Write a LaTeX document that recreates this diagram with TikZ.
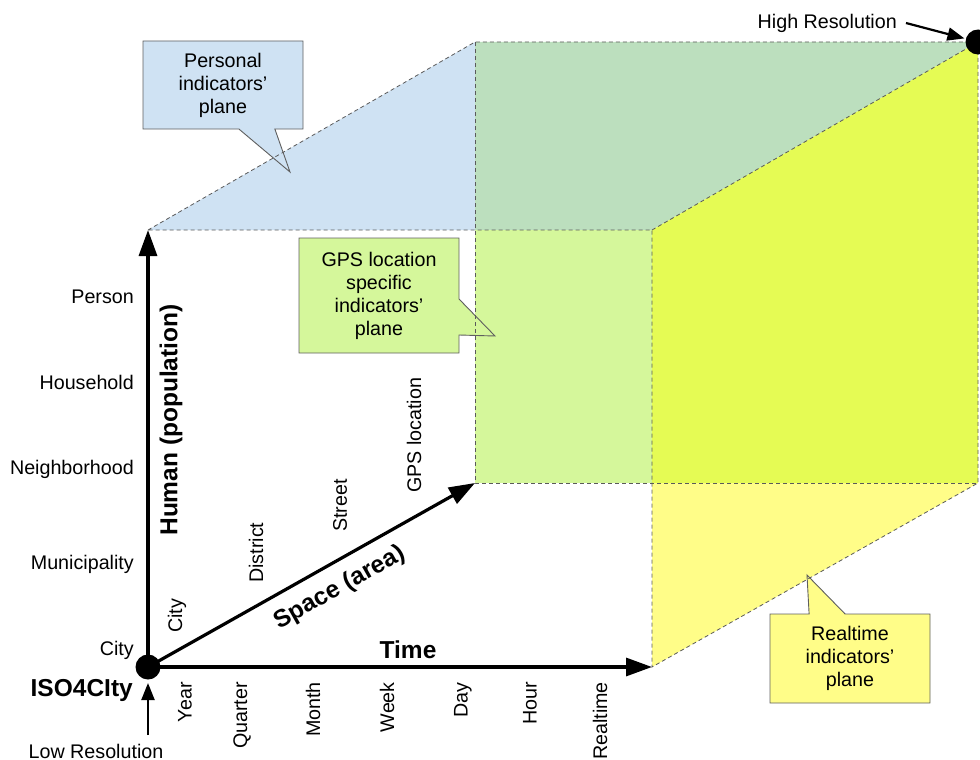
\documentclass[tikz,border=0pt]{standalone}
\usepackage{fontspec}
\setmainfont{Liberation Sans}
\usetikzlibrary{arrows.meta,shapes.callouts}

\definecolor{personblue}{HTML}{CFE2F3}
\definecolor{overlapgreen}{HTML}{BCDFBE}
\definecolor{gpsgreen}{HTML}{D5F79B}
\definecolor{limeyellow}{HTML}{E5FB54}
\definecolor{realyellow}{HTML}{FFFD88}
\definecolor{edgegray}{HTML}{5A5A5A}
\definecolor{notegray}{HTML}{5F5F5F}

\begin{document}
\begin{tikzpicture}[x=1pt,y=-1pt,
    txt/.style={font=\fontsize{19.7}{23}\selectfont,inner sep=0pt},
    bold/.style={font=\fontsize{24.5}{28}\selectfont\bfseries,inner sep=0pt},
    axis/.style={line width=3.2pt,-{Triangle[length=26pt,width=18pt]}},
    pointer/.style={line width=2.2pt,-{Triangle[length=17pt,width=13pt]}},
    edge/.style={dash pattern=on 4pt off 3pt,line width=0.8pt,draw=edgegray},
    note/.style={rectangle callout,draw=notegray,line width=0.9pt,
                 callout pointer width=36pt,align=center,txt}]
        \useasboundingbox (0,0) rectangle (980,760);
        \coordinate (origin)   at (148,667);
        \coordinate (human)    at (148,230);
        \coordinate (time)     at (652,667);
        \coordinate (space)    at (475,483);
        \coordinate (back)     at (475,42);
        \coordinate (corner)   at (978,42);
        \coordinate (mid)      at (652,230);
        \coordinate (side)     at (978,483);
        \coordinate (lowfoot)  at (148,735);
        \coordinate (highfoot) at (906,23);
        % the three planes
        \fill[personblue]   (human) -- (back) -- (back |- mid) -- cycle;
        \fill[overlapgreen] (back) -- (corner) -- (mid) -- (back |- mid) -- cycle;
        \fill[gpsgreen]     (back |- mid) -- (mid) -- (mid |- space) -- (space) -- cycle;
        \fill[limeyellow]   (mid) -- (corner) -- (side) -- (mid |- space) -- cycle;
        \fill[realyellow]   (mid |- space) -- (side) -- (time) -- cycle;
        \node[note,fill=personblue,minimum width=160pt,minimum height=88pt,
              callout absolute pointer={(290,172)}] (personal) at (223,85)
              {Personal\\indicators'\\plane};
        \node[note,fill=gpsgreen,minimum width=160pt,minimum height=115pt,
              callout absolute pointer={(495,336)}] (gps) at (379,295.5)
              {GPS location\\specific\\indicators'\\plane};
        \node[note,fill=realyellow,minimum width=160pt,minimum height=89pt,
              callout absolute pointer={(807,575)}] (realtime) at (850,658.5)
              {Realtime\\indicators'\\plane};
        \draw[edge] (human) -- (back) -- (corner) -- (side) -- (time) -- (mid) -- (human);
        \draw[edge] (back) -- (space) -- (side);
        \draw[edge] (mid) -- (corner);
        % axes
        \draw[axis] (origin) -- (human);
        \draw[axis] (origin) -- (time);
        \draw[axis] (origin) -- (space);
        \fill (origin) circle (12.5);
        \fill (corner) circle (12.5);
        \node[bold,rotate=90]      (humanlbl) at (171,420) {Human (population)};
        \node[bold]                (timelbl)  at (408,650) {Time};
        \node[bold,rotate=29.4]    (spacelbl) at (340,588) {Space (area)};
        \node[bold,anchor=base east] (iso)    at (133,696) {ISO4CIty};
        \foreach \name/\y in {Person/303,Household/389,Neighborhood/474,Municipality/569,City/655}
          \node[txt,anchor=base east] (h-\y) at (134,\y) {\name};
        \foreach \name/\x in {Year/185,Quarter/242,Month/313,Week/387,Day/463,Hour/530,Realtime/600}
          \node[txt,rotate=90,anchor=east] (t-\x) at (\x,682) {\name};
        \foreach \name/\x/\y in {City/177/633,District/256/583,Street/340/532,GPS location/414/493}
          \node[txt,rotate=90,anchor=west] (s-\x) at (\x,\y) {\name};
        \node[txt,anchor=base]      (low)  at (96,758) {Low Resolution};
        \node[txt,anchor=base east] (high) at (897,29) {High Resolution};
        \draw[pointer,shorten >=16pt] (lowfoot) -- (origin);
        \draw[pointer,shorten >=14pt] (highfoot) -- (corner);
      \end{tikzpicture}
\end{document}
